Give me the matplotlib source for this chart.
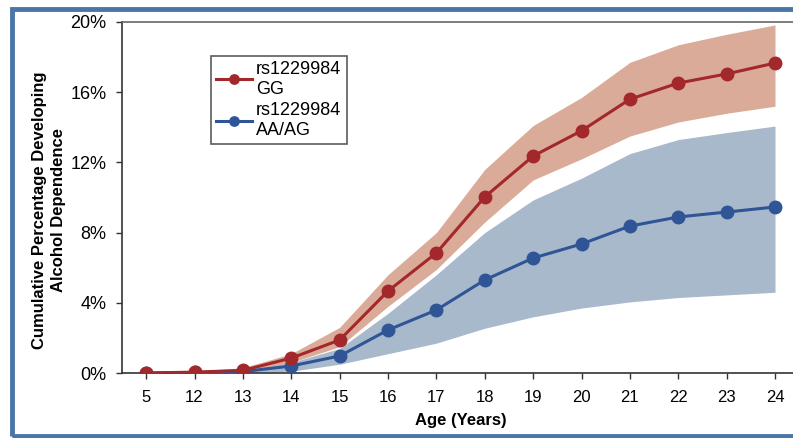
import numpy as np
import matplotlib.pyplot as plt
from matplotlib.patches import Rectangle
from matplotlib.ticker import FuncFormatter

plt.rcParams["font.family"] = ["Liberation Sans", "DejaVu Sans"]

ages = ["5", "12", "13", "14", "15", "16", "17", "18", "19", "20", "21", "22", "23", "24"]

gg = [0.0, 0.05, 0.15, 0.85, 1.88, 4.67, 6.84, 10.03, 12.36, 13.8, 15.6, 16.52, 17.04, 17.66]
gg_low = [0.0, 0.02, 0.08, 0.6, 1.5, 3.8, 5.9, 8.6, 11.0, 12.2, 13.5, 14.3, 14.8, 15.2]
gg_high = [0.0, 0.1, 0.3, 1.1, 2.6, 5.6, 8.0, 11.6, 14.1, 15.7, 17.7, 18.7, 19.3, 19.83]

aa = [0.0, 0.03, 0.08, 0.4, 0.97, 2.45, 3.59, 5.3, 6.55, 7.35, 8.37, 8.89, 9.17, 9.46]
aa_low = [0.0, 0.01, 0.03, 0.1, 0.5, 1.1, 1.7, 2.55, 3.2, 3.7, 4.05, 4.3, 4.45, 4.6]
aa_high = [0.0, 0.06, 0.15, 0.6, 1.4, 3.4, 5.6, 8.0, 9.86, 11.1, 12.5, 13.3, 13.7, 14.07]

red = "#A3282B"
red_band = "#D6A28E"
blue = "#2F5597"
blue_band = "#A9B9CC"

fig = plt.figure(figsize=(7.93, 4.38), dpi=100)
ax = fig.add_axes([0.1538, 0.1484, 0.854, 0.8014])

x = np.arange(len(ages))
ax.fill_between(x, aa_low, aa_high, color=blue_band, lw=0, zorder=1)
ax.fill_between(x, gg_low, gg_high, color=red_band, lw=0, alpha=0.9, zorder=2)
ax.plot(x, gg, color=red, lw=2.2, marker="o", ms=9, zorder=4,
        label="rs1229984\nGG")
ax.plot(x, aa, color=blue, lw=2.2, marker="o", ms=9, zorder=3,
        label="rs1229984\nAA/AG")

ax.set_xlim(-0.5, 13.5)
ax.set_ylim(0, 20)
ax.set_xticks(x)
ax.set_xticklabels(ages)
ax.set_yticks([0, 4, 8, 12, 16, 20])
ax.yaxis.set_major_formatter(FuncFormatter(lambda v, p: f"{v:.0f}%"))
ax.tick_params(axis="both", labelsize=12, length=4, width=1, colors="#333333",
               labelcolor="black")
ax.tick_params(axis="x", pad=8)
ax.tick_params(axis="y", labelsize=13, pad=7)
for s in ax.spines.values():
    s.set_color("#333333")
    s.set_linewidth(1.2)
ax.spines["top"].set_color("#666666")

ax.set_xlabel("Age (Years)", fontsize=12, fontweight="bold", labelpad=6)
ax.set_ylabel("Cumulative Percentage Developing\nAlcohol Dependence",
              fontsize=12, fontweight="bold", linespacing=1.35)
ax.yaxis.set_label_coords(-0.083, 0.465)

leg = ax.legend(loc="upper left", bbox_to_anchor=(0.118, 0.93), fontsize=13,
                frameon=True, fancybox=False, handlelength=2.0,
                handletextpad=0.2, borderpad=0.3, labelspacing=0.25,
                markerscale=0.75)
leg.get_frame().set_edgecolor("#333333")
leg.get_frame().set_linewidth(1.2)

fig.patches.append(Rectangle((12 / 793, 2 / 438), 1.2, 427 / 438,
                             transform=fig.transFigure, fill=False,
                             edgecolor="#4A76A8", lw=3.5))

fig.savefig("out.png", dpi=100)
